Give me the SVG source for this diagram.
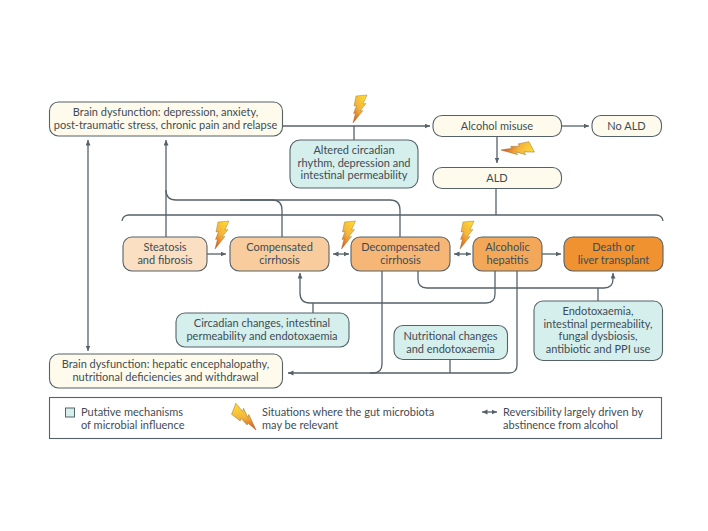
<svg xmlns="http://www.w3.org/2000/svg" width="708" height="531" viewBox="0 0 708 531">
<style>
text{font-family:"Lato","Liberation Sans",sans-serif;font-size:11px;fill:#3f4c55;text-anchor:middle}
.n{stroke:#55626a;stroke-width:1.1}
.y{fill:#fefbec}.t{fill:#d5efec}
.c{fill:none;stroke:#55626a;stroke-width:1.3}
.l text{text-anchor:start}
</style>
<defs>
<marker id="a" markerWidth="6" markerHeight="6" refX="5.500" refY="2.500" orient="auto-start-reverse" markerUnits="userSpaceOnUse"><path d="M0 0L5.500 2.500L0 5z" fill="#55626a"/></marker>
<linearGradient id="b" x1="0.800" y1="0" x2="0.100" y2="1"><stop offset="0" stop-color="#fdd835"/><stop offset="0.500" stop-color="#f4b43a"/><stop offset="1" stop-color="#d9531e"/></linearGradient>
<path id="z" d="M3 1L14 0L10 9L13 8.500L7 16L10 15.500L0 28L2.500 18L0.500 18.500L3.500 10.500L1 11z" fill="url(#b)" stroke="#8a6a2a" stroke-width="0.400"/>
</defs>
<rect width="708" height="531" fill="#fff"/>
<g id="connectors">
<path class="c" d="M283 126H430" marker-end="url(#a)"/>
<path class="c" d="M354 126V140"/>
<path class="c" d="M562 126H589" marker-end="url(#a)"/>
<path class="c" d="M497 136V163" marker-end="url(#a)"/>
<path class="c" d="M496 188V215"/>
<path class="c" d="M122 221Q123 215 129 215H656Q662 215 663 221"/>
<path class="c" d="M88 140V351" marker-start="url(#a)" marker-end="url(#a)"/>
<path class="c" d="M166 237V140" marker-end="url(#a)"/>
<path class="c" d="M166 190Q166 200 176 200H272Q282 200 282 210V237"/>
<path class="c" d="M240 200H390Q400 200 400 210V237"/>
<path class="c" d="M207 254H226" marker-end="url(#a)"/>
<path class="c" d="M333 254H349" marker-start="url(#a)" marker-end="url(#a)"/>
<path class="c" d="M454 254H471" marker-start="url(#a)" marker-end="url(#a)"/>
<path class="c" d="M542 254H561" marker-end="url(#a)"/>
<path class="c" d="M495 271V294Q495 303 486 303H310Q300 303 300 293V273" marker-end="url(#a)"/>
<path class="c" d="M313 303V313"/>
<path class="c" d="M418 271V279Q418 288 427 288H604Q613 288 613 279V273" marker-end="url(#a)"/>
<path class="c" d="M598 288V301"/>
<path class="c" d="M382 271V364Q382 373 373 373H288" marker-end="url(#a)"/>
<path class="c" d="M517 271V365Q517 373 509 373H370"/>
<path class="c" d="M450 360V373"/>
</g>
<g id="brain-top"><rect class="n y" x="49.500" y="102" width="233" height="34" rx="9"/><text x="165.500" y="116">Brain dysfunction: depression, anxiety,</text><text x="165.500" y="129">post-traumatic stress, chronic pain and relapse</text></g>
<g id="circadian-top"><rect class="n t" x="290" y="140" width="128" height="48" rx="10"/><text x="354" y="154">Altered circadian</text><text x="354" y="167">rhythm, depression and</text><text x="354" y="179">intestinal permeability</text></g>
<g id="alcohol-misuse"><rect class="n y" x="433" y="115.500" width="128.500" height="21" rx="9"/><text x="497" y="130">Alcohol misuse</text></g>
<g id="no-ald"><rect class="n y" x="592" y="115.500" width="69.500" height="21" rx="9"/><text x="626.500" y="130">No ALD</text></g>
<g id="ald"><rect class="n y" x="433" y="167.500" width="128.500" height="21" rx="9"/><text x="497" y="181.500">ALD</text></g>
<g id="steatosis"><rect class="n" fill="#fbdfc3" x="123" y="237" width="84" height="34" rx="9"/><text x="165" y="251">Steatosis</text><text x="165" y="263.500">and fibrosis</text></g>
<g id="compensated"><rect class="n" fill="#f8cc9d" x="230" y="237" width="99" height="34" rx="9"/><text x="279.500" y="251">Compensated</text><text x="279.500" y="263.500">cirrhosis</text></g>
<g id="decompensated"><rect class="n" fill="#f5b676" x="351" y="237" width="99" height="34" rx="9"/><text x="400.500" y="251">Decompensated</text><text x="400.500" y="263.500">cirrhosis</text></g>
<g id="hepatitis"><rect class="n" fill="#f3a758" x="473" y="237" width="69" height="34" rx="9"/><text x="507.500" y="251">Alcoholic</text><text x="507.500" y="263.500">hepatitis</text></g>
<g id="death"><rect class="n" fill="#ef922f" x="564" y="237" width="99" height="34" rx="9"/><text x="613.500" y="251">Death or</text><text x="613.500" y="263.500">liver transplant</text></g>
<g id="circadian-low"><rect class="n t" x="176" y="313" width="173" height="34" rx="9"/><text x="262" y="327">Circadian changes, intestinal</text><text x="262" y="339.500">permeability and endotoxaemia</text></g>
<g id="nutritional"><rect class="n t" x="394" y="325.500" width="113.500" height="34" rx="9"/><text x="450.500" y="340">Nutritional changes</text><text x="450.500" y="352.500">and endotoxaemia</text></g>
<g id="endotoxaemia"><rect class="n t" x="534" y="301" width="128.500" height="59.500" rx="9"/><text x="598" y="315">Endotoxaemia,</text><text x="598" y="327.500">intestinal permeability,</text><text x="598" y="340">fungal dysbiosis,</text><text x="598" y="352.500">antibiotic and PPI use</text></g>
<g id="brain-low"><rect class="n y" x="49.500" y="354" width="233" height="34" rx="9"/><text x="165.500" y="368">Brain dysfunction: hepatic encephalopathy,</text><text x="165.500" y="380.500">nutritional deficiencies and withdrawal</text></g>
<g id="bolts">
<use href="#z" x="353" y="95"/>
<use href="#z" x="215" y="221"/>
<use href="#z" x="341.500" y="221"/>
<use href="#z" x="460" y="221"/>
<use href="#z" transform="translate(528.600 138.300) rotate(67) scale(1.070)"/>
</g>
<g id="legend" class="l">
<rect x="49.500" y="397.500" width="612" height="41" fill="#fff" stroke="#55626a" stroke-width="1.100"/>
<rect x="65.500" y="408" width="9" height="9" fill="#d5efec" stroke="#55626a"/>
<text x="81" y="416">Putative mechanisms</text><text x="81" y="428.500">of microbial influence</text>
<use href="#z" transform="translate(229.200 416.700) rotate(-63.600) scale(1.070)"/>
<text x="262" y="416">Situations where the gut microbiota</text><text x="262" y="428.500">may be relevant</text>
<path class="c" d="M482 412H497" marker-start="url(#a)" marker-end="url(#a)"/>
<text x="503" y="416">Reversibility largely driven by</text><text x="503" y="428.500">abstinence from alcohol</text>
</g>
</svg>
